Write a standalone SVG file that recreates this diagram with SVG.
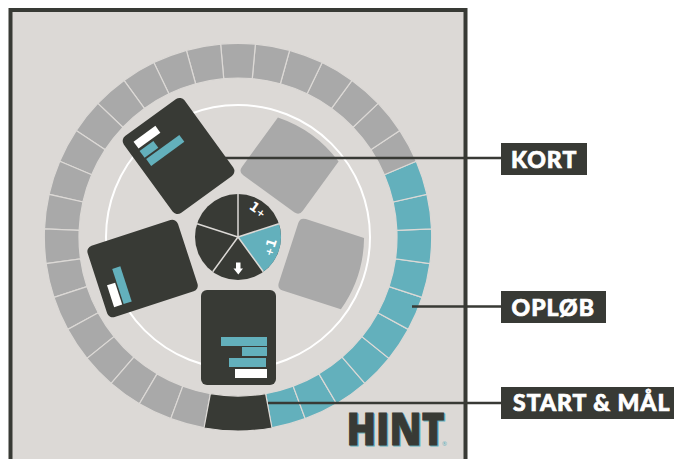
<svg xmlns="http://www.w3.org/2000/svg" width="674" height="459" viewBox="0 0 674 459">
<style>
.seg{stroke:#dcd9d6;stroke-width:1.2}
.g{fill:#a9a9a9}.t{fill:#63b0bc}.d{fill:#383a35}.w{fill:#fff}
.lead{stroke:#383a35;stroke-width:2.5;fill:none}
.lab{font-family:"Lato","Open Sans",sans-serif;font-weight:900;font-size:23px;fill:#fff;letter-spacing:1px;stroke:#fff;stroke-width:.7}
.ico{font-family:"DejaVu Sans",sans-serif;font-weight:700;fill:#fff;font-size:13px}
.wl{stroke:#dcd9d6;stroke-width:1.5;fill:none}
.hint{font-family:"Open Sans",sans-serif;font-weight:800;font-size:43.5px;stroke-width:1}
</style>
<defs>
<path id="s" class="seg" d="M220.6 429.9A193.700 193.700 0 0 0 255.400 429.900L252.270 395.360A159 159 0 0 1 223.730 395.360Z"/>
<path id="gc" class="g" d="M207 290H270Q276 290 276 296V357.200A126 126 0 0 1 201 357.200V296Q201 290 207 290Z"/>
</defs>
<rect id="frame" x="10.500" y="10" width="455" height="470" fill="#dcd9d6" stroke="#383a35" stroke-width="4"/>
<g id="track">
<g class="t">
<use href="#s" transform="rotate(-15.15 238 237)"/><use href="#s" transform="rotate(-25.45 238 237)"/><use href="#s" transform="rotate(-35.76 238 237)"/><use href="#s" transform="rotate(-46.06 238 237)"/><use href="#s" transform="rotate(-56.36 238 237)"/><use href="#s" transform="rotate(-66.67 238 237)"/><use href="#s" transform="rotate(-76.97 238 237)"/><use href="#s" transform="rotate(-87.27 238 237)"/><use href="#s" transform="rotate(-97.58 238 237)"/><use href="#s" transform="rotate(-107.88 238 237)"/>
</g>
<g class="g">
<use href="#s" transform="rotate(-118.18 238 237)"/><use href="#s" transform="rotate(-128.48 238 237)"/><use href="#s" transform="rotate(-138.79 238 237)"/><use href="#s" transform="rotate(-149.09 238 237)"/><use href="#s" transform="rotate(-159.39 238 237)"/><use href="#s" transform="rotate(-169.7 238 237)"/><use href="#s" transform="rotate(-180 238 237)"/><use href="#s" transform="rotate(-190.3 238 237)"/><use href="#s" transform="rotate(-200.61 238 237)"/><use href="#s" transform="rotate(-210.91 238 237)"/><use href="#s" transform="rotate(-221.21 238 237)"/><use href="#s" transform="rotate(-231.52 238 237)"/><use href="#s" transform="rotate(-241.82 238 237)"/><use href="#s" transform="rotate(-252.12 238 237)"/><use href="#s" transform="rotate(-262.42 238 237)"/><use href="#s" transform="rotate(-272.73 238 237)"/><use href="#s" transform="rotate(-283.03 238 237)"/><use href="#s" transform="rotate(-293.33 238 237)"/><use href="#s" transform="rotate(-303.64 238 237)"/><use href="#s" transform="rotate(-313.94 238 237)"/><use href="#s" transform="rotate(-324.24 238 237)"/><use href="#s" transform="rotate(-334.55 238 237)"/><use href="#s" transform="rotate(-344.85 238 237)"/>
</g>
<path class="seg d" d="M204 428A193.700 193.700 0 0 0 272 428L265.600 393.600A159 159 0 0 1 210.400 393.600Z"/>
</g>
<circle id="ring" cx="238" cy="237" r="132" fill="none" stroke="#fff" stroke-width="2"/>
<g id="card-bottom"><rect class="d" x="201" y="290" width="75" height="95" rx="6"/><rect class="t" x="221" y="337" width="46" height="9"/><rect class="t" x="242" y="347" width="25" height="9"/><rect class="t" x="229" y="358" width="37" height="9"/><rect class="w" x="235" y="369" width="32" height="9"/></g>
<g id="card-left" transform="rotate(72 238 237)"><rect class="d" x="201" y="290" width="75" height="95" rx="6"/><rect class="t" x="229.500" y="358" width="37" height="8.500"/><rect class="w" x="243.500" y="368" width="23" height="8.500"/></g>
<g id="card-topleft" transform="rotate(144 238 237)"><rect class="d" x="201" y="290" width="75" height="95" rx="6"/><rect class="t" x="225.500" y="345.500" width="41" height="8.500"/><rect class="t" x="250" y="356" width="17" height="8.500"/><rect class="w" x="239.500" y="367" width="27" height="8.500"/></g>
<use id="card-topright" href="#gc" transform="rotate(216 238 237)"/>
<use id="card-right" href="#gc" transform="rotate(288 238 237)"/>
<g id="wheel">
<circle class="d" cx="238" cy="237" r="43"/>
<path class="t" d="M238 237L278.900 223.700A43 43 0 0 1 263.270 271.790Z"/>
<path class="wl" d="M238 194V237M278.900 223.700L238 237M263.270 271.790L238 237M212.730 271.790L238 237M197.100 223.700L238 237"/>
<text class="ico" transform="translate(258 209.500) rotate(36)" text-anchor="middle" y="4.500">1<tspan font-size="10">+</tspan></text>
<text class="ico" transform="translate(270 247) rotate(-72)" text-anchor="middle" y="4.500"><tspan font-size="10">+</tspan>1</text>
<path class="w" d="M236 262.500H240.500V268.500H243L238.300 274.500L233.500 268.500H236Z"/>
</g>
<g id="connectors">
<path class="lead" d="M225 158H501M412 306.500H501M268 403H501"/>
</g>
<g id="label-kort"><rect class="d" x="501" y="143" width="86" height="32"/><text class="lab" x="511" y="168">KORT</text></g>
<g id="label-oplob"><rect class="d" x="501" y="291" width="105" height="32"/><text class="lab" x="511.500" y="316">OPLØB</text></g>
<g id="label-start"><rect class="d" x="501" y="387" width="173" height="32"/><text class="lab" x="513" y="411">START &amp; MÅL</text></g>
<g id="logo">
<text class="hint t" stroke="#63b0bc" x="347.500" y="445.500" textLength="98" lengthAdjust="spacingAndGlyphs">HINT</text>
<text class="hint d" stroke="#383a35" x="346.500" y="444.500" textLength="98" lengthAdjust="spacingAndGlyphs">HINT</text>
<text x="442" y="445.500" font-family="Open Sans,sans-serif" font-size="6" fill="#63b0bc">®</text>
</g>
</svg>
